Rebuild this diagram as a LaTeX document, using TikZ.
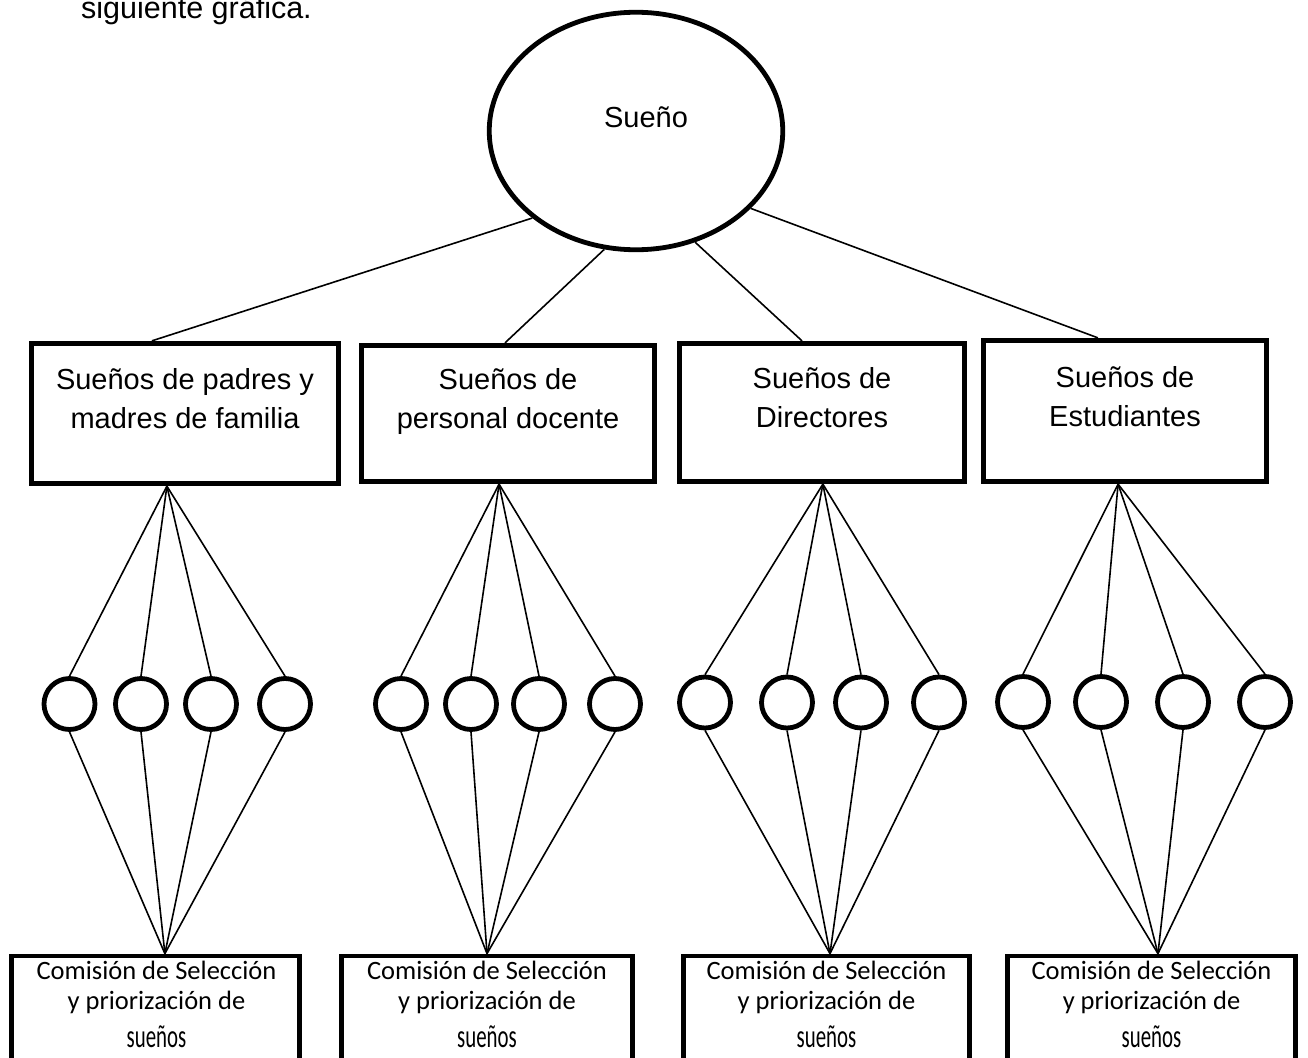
\documentclass[tikz,border=0pt]{standalone}
\usepackage{fontspec}
\setmainfont{Liberation Sans}
\newfontfamily\carl{Carlito}
\usetikzlibrary{shapes.geometric,calc}
\begin{document}
\begin{tikzpicture}[x=1pt,y=-1pt,
  thickbox/.style={draw, rectangle, line width=4.8pt, inner sep=0pt},
  dot/.style={draw, circle, line width=4.8pt, minimum size=51pt, inner sep=0pt},
  conn/.style={line width=1.6pt},
  lbl/.style={font=\fontsize{29}{39}\selectfont, align=center, inner sep=0pt, anchor=base},
  clbl/.style={font=\carl\fontsize{26.5}{30}\selectfont, align=center, inner sep=0pt, anchor=base}]
\useasboundingbox (0,0) rectangle (1308,1057);
\clip (0,0) rectangle (1308,1057);

% title fragment
\node[anchor=base west, font=\fontsize{30.5}{36}\selectfont, inner sep=0pt] (title) at (81,19) {siguiente gráfica.};

% top ellipse
\node[draw, ellipse, line width=4.8pt, minimum width=293.5pt, minimum height=237.5pt, inner sep=0pt] (top) at (636,131) {};
\node[lbl] (toptxt) at (646,127) {Sueño};

% second level boxes
\node[thickbox, minimum width=307.5pt, minimum height=140.5pt] (b1) at (185,413.5) {};
\node[thickbox, minimum width=293.5pt, minimum height=136.5pt] (b2) at (508,413.5) {};
\node[thickbox, minimum width=285.5pt, minimum height=138.5pt] (b3) at (822,412.5) {};
\node[thickbox, minimum width=283.5pt, minimum height=141.5pt] (b4) at (1125,411) {};
\node[lbl] (t1) at (185,428) {Sueños de padres y\\madres de familia};
\node[lbl] (t2) at (508,428) {Sueños de\\personal docente};
\node[lbl] (t3) at (822,427.5) {Sueños de\\Directores};
\node[lbl] (t4) at (1125,426) {Sueños de\\Estudiantes};

% circles
\foreach \x [count=\i] in {69.5,141,211,285} \node[dot] (c1\i) at (\x,704) {};
\foreach \x [count=\i] in {401,471,539,615} \node[dot] (c2\i) at (\x,704) {};
\foreach \x [count=\i] in {705,787,861,939} \node[dot] (c3\i) at (\x,702.5) {};
\foreach \x [count=\i] in {1023,1101,1183,1265} \node[dot] (c4\i) at (\x,702) {};

% bottom boxes
\node[thickbox, minimum width=288.5pt, minimum height=160pt] (d1) at (155.5,1036) {};
\node[thickbox, minimum width=291.5pt, minimum height=160pt] (d2) at (487,1036) {};
\node[thickbox, minimum width=286.5pt, minimum height=160pt] (d3) at (826.5,1036) {};
\node[thickbox, minimum width=288.5pt, minimum height=160pt] (d4) at (1151.5,1036) {};
\foreach \cx/\n in {156.5/1,487/2,826.5/3,1151.5/4}
  \node[clbl] (s\n) at (\cx,1047) {Comisión de Selección\\y priorización de\\[8pt]\scalebox{0.64}[1]{\fontsize{32.6}{36}\selectfont sueños}};

% attachment points
\coordinate (p1) at ($(b1.north west)!0.394!(b1.north east)$);
\coordinate (p2) at ($(b2.north west)!0.49!(b2.north east)$);
\coordinate (p3) at ($(b3.north west)!0.431!(b3.north east)$);
\coordinate (p4) at ($(b4.north west)!0.406!(b4.north east)$);
\coordinate (a1) at ($(b1.south west)!0.442!(b1.south east)$);
\coordinate (a2) at ($(b2.south west)!0.47!(b2.south east)$);
\coordinate (a3) at ($(b3.south west)!0.503!(b3.south east)$);
\coordinate (a4) at ($(b4.south west)!0.476!(b4.south east)$);
\coordinate (e1) at ($(d1.north west)!0.532!(d1.north east)$);
\coordinate (e2) at ($(d2.north west)!0.5!(d2.north east)$);
\coordinate (e3) at ($(d3.north west)!0.512!(d3.north east)$);
\coordinate (e4) at ($(d4.north west)!0.522!(d4.north east)$);

% connectors
\draw[conn] (top.220) -- (p1);
\draw[conn] (top.255) -- (p2);
\draw[conn] (top.298) -- (p3);
\draw[conn] (top.326) -- (p4);
\foreach \g in {1,2,3,4}
  \foreach \i in {1,2,3,4} {
    \draw[conn] (a\g) -- (c\g\i.north);
    \draw[conn] (c\g\i.south) -- (e\g);
  }
\end{tikzpicture}
\end{document}
